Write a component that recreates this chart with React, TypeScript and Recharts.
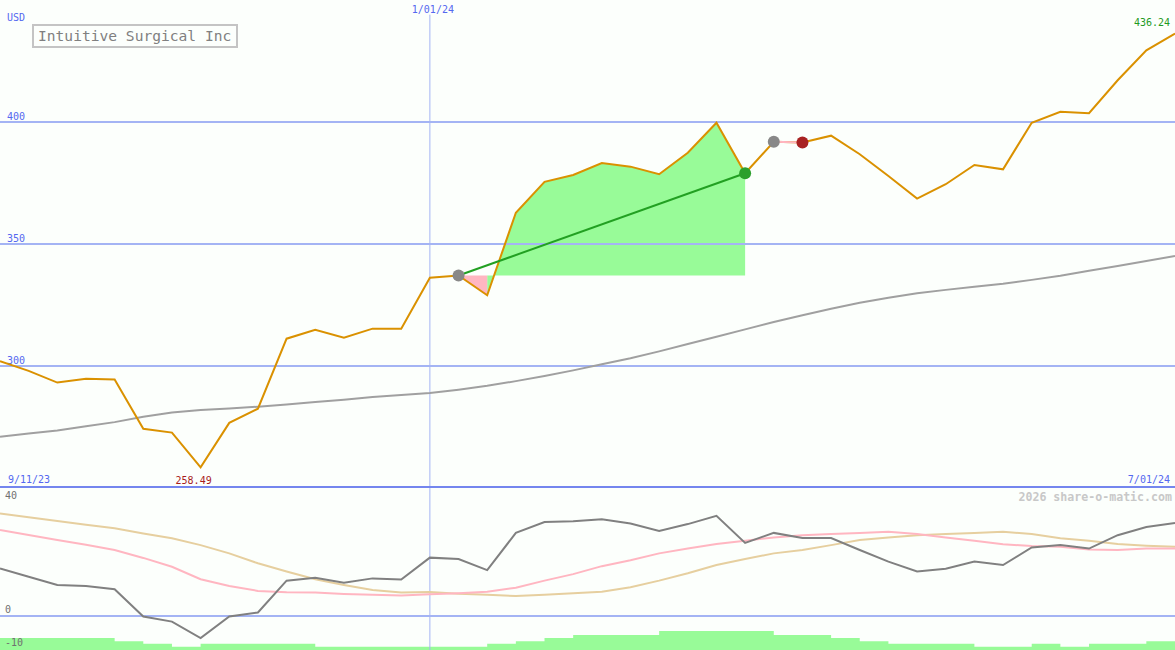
import { Area, ComposedChart, Line, ReferenceDot, ReferenceLine, XAxis, YAxis } from "recharts";

// weekly closes, Intuitive Surgical, 9/11/23 .. 7/01/24
const price = [
  302.0, 298.0, 293.2, 294.8, 294.5, 274.3, 272.7, 258.49, 276.7, 282.5,
  311.2, 314.8, 311.6, 315.3, 315.3, 336.2, 337.1, 329.0, 362.8, 375.5,
  378.3, 383.2, 381.7, 378.6, 387.4, 399.7, 379.0, 391.9, 391.6, 394.4,
  386.8, 377.9, 368.6, 374.5, 382.4, 380.6, 399.7, 404.2, 403.6, 417.1,
  429.4, 436.24,
];
const movingAvg = [
  271.0, 272.3, 273.6, 275.3, 277.0, 279.2, 280.9, 282.0, 282.6, 283.3,
  284.2, 285.2, 286.2, 287.3, 288.1, 288.9, 290.3, 291.9, 293.8, 295.9,
  298.2, 300.7, 303.2, 306.0, 309.0, 312.0, 315.0, 318.0, 320.8, 323.5,
  325.9, 328.0, 329.8, 331.2, 332.5, 333.7, 335.3, 337.0, 339.0, 341.0,
  343.0, 345.1,
];
// lower panel
const osc = [
  16.7, 13.8, 10.9, 10.5, 9.4, -0.2, -2.0, -7.8, -0.2, 1.2,
  12.4, 13.4, 11.7, 13.2, 12.8, 20.5, 20.0, 16.1, 29.2, 33.0,
  33.3, 34.0, 32.5, 29.9, 32.3, 35.2, 25.7, 29.2, 27.4, 27.4,
  23.2, 19.1, 15.6, 16.6, 19.1, 17.9, 24.1, 24.9, 23.7, 28.4,
  31.3, 32.7,
];
const fastSig = [
  30.2, 28.5, 26.7, 25.0, 23.2, 20.4, 17.3, 12.9, 10.5, 8.8,
  8.3, 8.2, 7.7, 7.4, 7.2, 7.6, 8.0, 8.5, 9.9, 12.4,
  14.7, 17.5, 19.6, 22.0, 23.7, 25.3, 26.4, 27.6, 28.4, 28.8,
  29.2, 29.6, 28.8, 27.6, 26.4, 25.2, 24.6, 24.3, 23.4, 23.2,
  23.7, 23.7,
];
const slowSig = [
  36.0, 34.7, 33.4, 32.1, 30.8, 29.0, 27.3, 24.9, 22.0, 18.5,
  15.6, 12.9, 10.9, 9.1, 8.2, 8.4, 7.8, 7.4, 7.0, 7.4,
  8.0, 8.5, 10.1, 12.4, 15.0, 17.9, 20.0, 22.0, 23.2, 24.9,
  26.7, 27.6, 28.4, 28.8, 29.2, 29.6, 28.8, 27.3, 26.4, 25.3,
  24.7, 24.3,
];
const hist = [
  -7.8, -7.8, -7.8, -7.8, -8.9, -9.8, -10.9, -9.8, -9.8, -9.8,
  -9.8, -10.9, -10.9, -10.9, -10.9, -10.9, -10.9, -9.8, -8.9, -7.8,
  -6.7, -6.7, -6.7, -5.3, -5.3, -5.3, -5.3, -6.7, -6.7, -7.8,
  -8.9, -9.8, -9.8, -9.8, -10.9, -10.9, -9.8, -10.9, -9.8, -9.8,
  -8.9, -8.9,
];
const trades = [
  { entry: 16, exit: 26 },
  { entry: 27, exit: 28 },
];

const xLabels = ["9/11/23", "1/01/24", "7/01/24"];
const xLabelIdx = [0, 15, 41];
const priceTicks = [300, 350, 400];
const oscTicks = [40, 0, -10];

const W = 1175;
const MAIN_H = 488;
const LOW_H = 162;
const FONT = '"DejaVu Sans Mono", monospace';
const BLUE_TXT = "#5468f0";
const GRID = "#a4b4f4";
const BG = "#fcfffc";

const n = price.length;
const lastIdx = n - 1;
const minIdx = price.indexOf(Math.min(...price));

type Row = Record<string, number | number[] | null>;

const mainRows: Row[] = price.map((p, i) => ({
  i, price: p, ma: movingAvg[i], up: null, down: null, win: null, loss: null,
}));
trades.forEach((t) => {
  const base = price[t.entry];
  const key = price[t.exit] >= base ? "win" : "loss";
  mainRows[t.entry][key] = base;
  mainRows[t.exit][key] = price[t.exit];
  for (let i = t.entry; i <= t.exit; i++) {
    const prevUp = i > t.entry && price[i] >= base;
    const nextUp = i < t.exit && price[i + 1] >= base;
    const prevDn = i > t.entry && price[i] < base;
    const nextDn = i < t.exit && price[i + 1] < base;
    if (prevUp || nextUp) mainRows[i].up = [base, price[i]];
    if (prevDn || nextDn) mainRows[i].down = [price[i], base];
  }
});

const lowRows = osc.map((v, i) => ({ i, osc: v, fast: fastSig[i], slow: slowSig[i], hist: hist[i] }));

const txt = (s: string, x: number, y: number, fill: string, anchor = "start", key?: string) => (
  <text key={key} x={x} y={y} fill={fill} fontSize={10} fontFamily={FONT} textAnchor={anchor}>
    {s}
  </text>
);

function priceLabel(props: any) {
  const { x, y, index } = props;
  if (index === minIdx) return txt(price[minIdx].toFixed(2), x - 7, y + 17, "#a81c1c", "middle", "min");
  if (index === lastIdx) return txt(price[lastIdx].toFixed(2), x - 5, y - 8, "#1f9a1f", "end", "last");
  return <g />;
}

export default function App() {
  return (
    <div style={{ position: "absolute", left: 0, top: 0, width: W, height: MAIN_H + LOW_H, background: BG, overflow: "hidden" }}>
      <ComposedChart width={W} height={MAIN_H} data={mainRows} margin={{ top: 0, right: 0, bottom: 0, left: 0 }}>
        <XAxis dataKey="i" type="number" domain={[0, lastIdx]} hide />
        <YAxis type="number" domain={[250, 450]} hide />
        {priceTicks.map((t) => (
          <ReferenceLine key={t} y={t} stroke={GRID} strokeWidth={2}
            label={(p: any) => txt(String(t), p.viewBox.x + 7, p.viewBox.y - 2, BLUE_TXT)} />
        ))}
        <ReferenceLine
          segment={[{ x: xLabelIdx[1], y: 444 }, { x: xLabelIdx[1], y: 250 }]}
          stroke={GRID} strokeWidth={1}
          label={(p: any) => txt(xLabels[1], p.viewBox.x + 3, p.viewBox.y - 2, BLUE_TXT, "middle")}
        />
        <Area dataKey="up" type="linear" stroke="none" fill="#98fb98" fillOpacity={1} activeDot={false} isAnimationActive={false} />
        <Area dataKey="down" type="linear" stroke="none" fill="#ffb6c1" fillOpacity={1} activeDot={false} isAnimationActive={false} />
        <Line dataKey="ma" type="linear" stroke="#a0a0a0" strokeWidth={2} dot={false} activeDot={false} isAnimationActive={false} />
        <Line dataKey="price" type="linear" stroke="#da9100" strokeWidth={2} dot={false} activeDot={false} isAnimationActive={false} label={priceLabel} />
        <Line dataKey="win" type="linear" stroke="#22a022" strokeWidth={2} dot={false} activeDot={false} connectNulls isAnimationActive={false} />
        <Line dataKey="loss" type="linear" stroke="#ffb6c1" strokeWidth={2} dot={false} activeDot={false} connectNulls isAnimationActive={false} />
        {trades.map((t) => (
          <ReferenceDot key={"e" + t.entry} x={t.entry} y={price[t.entry]} r={6} fill="#888888" stroke="none" />
        ))}
        {trades.map((t) => (
          <ReferenceDot key={"x" + t.exit} x={t.exit} y={price[t.exit]} r={6} stroke="none"
            fill={price[t.exit] >= price[t.entry] ? "#2ca02c" : "#a82222"} />
        ))}
        <ReferenceLine y={250.41} stroke="#7486ee" strokeWidth={2}
          label={(p: any) => (
            <g>
              {txt(xLabels[0], 8, p.viewBox.y - 4, BLUE_TXT, "start", "a")}
              {txt(xLabels[2], W - 5, p.viewBox.y - 4, BLUE_TXT, "end", "b")}
            </g>
          )} />
      </ComposedChart>

      <div style={{ position: "absolute", left: 0, top: MAIN_H }}>
        <ComposedChart width={W} height={LOW_H} data={lowRows} margin={{ top: 0, right: 0, bottom: 0, left: 0 }}>
          <XAxis dataKey="i" type="number" domain={[0, lastIdx]} hide />
          <YAxis type="number" domain={[-12, 45]} hide />
          <ReferenceLine x={xLabelIdx[1]} stroke={GRID} strokeWidth={1} />
          {oscTicks.map((t) => (
            <ReferenceLine key={t} y={t} stroke={t === 0 ? GRID : "none"} strokeWidth={2}
              label={(p: any) => txt(String(t), p.viewBox.x + 5, p.viewBox.y + (t < 0 ? 2 : -3), "#707070")} />
          ))}
          <Area dataKey="hist" type="stepAfter" baseValue={-12} stroke="none" fill="#98fb98" fillOpacity={1} activeDot={false} isAnimationActive={false} />
          <Line dataKey="slow" type="linear" stroke="#e6cf9f" strokeWidth={2} dot={false} activeDot={false} isAnimationActive={false} />
          <Line dataKey="fast" type="linear" stroke="#ffb6c1" strokeWidth={2} dot={false} activeDot={false} isAnimationActive={false} />
          <Line dataKey="osc" type="linear" stroke="#808080" strokeWidth={2} dot={false} activeDot={false} isAnimationActive={false} />
        </ComposedChart>
      </div>

      <div style={{ position: "absolute", left: 7, top: 12, fontFamily: FONT, fontSize: 10, color: BLUE_TXT, lineHeight: "12px" }}>USD</div>
      <div style={{
        position: "absolute", left: 32, top: 24, width: 198, height: 20, border: "2px solid #c4c4c4",
        fontFamily: FONT, fontSize: 14.6, color: "#808080", lineHeight: "20px", paddingLeft: 4, boxSizing: "content-box",
        whiteSpace: "nowrap",
      }}>Intuitive Surgical Inc</div>
      <div style={{
        position: "absolute", right: 3, top: MAIN_H + 2, fontFamily: FONT, fontSize: 11.6, fontWeight: "bold",
        color: "#c8c8c8", lineHeight: "14px", whiteSpace: "nowrap",
      }}>2026 share-o-matic.com</div>
    </div>
  );
}
